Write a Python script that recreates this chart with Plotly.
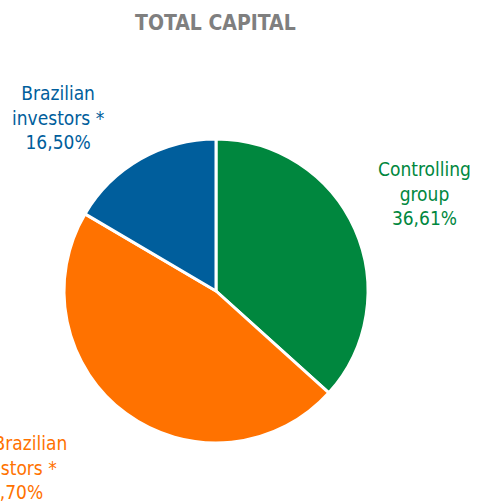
import plotly.graph_objects as go

labels = ["Controlling<br>group", "Non-Brazilian<br>investors *", "Brazilian<br>investors *"]
values = [36.61, 46.70, 16.50]
value_text = ["36,61%", "46,70%", "16,50%"]
colors = ["#00873E", "#FF7200", "#005E9C"]
label_pos = [(424, 193), (10, 467), (58, 117)]  # label centers in px

W, H = 478, 504
cx, cy, r = 216, 291, 152
FONT = "DejaVu Sans Condensed"

fig = go.Figure(go.Pie(
    labels=labels, values=values, sort=False, direction="clockwise", rotation=0,
    marker=dict(colors=colors, line=dict(color="white", width=3)),
    textinfo="none", hoverinfo="label+percent",
    domain=dict(x=[(cx - r) / W, (cx + r) / W], y=[(H - cy - r) / H, (H - cy + r) / H]),
    showlegend=False,
))

for lab, vt, col, (x, y) in zip(labels, value_text, colors, label_pos):
    fig.add_annotation(x=x / W, y=1 - y / H, xref="paper", yref="paper",
                       text=f"{lab}<br>{vt}", showarrow=False, align="center",
                       xanchor="center", yanchor="middle",
                       font=dict(family=FONT, size=19, color=col))

fig.add_annotation(x=215 / W, y=1 - 23 / H, xref="paper", yref="paper",
                   text="<b>TOTAL CAPITAL</b>", showarrow=False,
                   xanchor="center", yanchor="middle",
                   font=dict(family=FONT, size=21, color="#7F7F7F"))

fig.update_layout(width=W, height=H, margin=dict(l=0, r=0, t=0, b=0),
                  paper_bgcolor="white", plot_bgcolor="white")
fig.write_html("out.html", config={"displayModeBar": False},
               post_script="document.body.style.margin='0';")
